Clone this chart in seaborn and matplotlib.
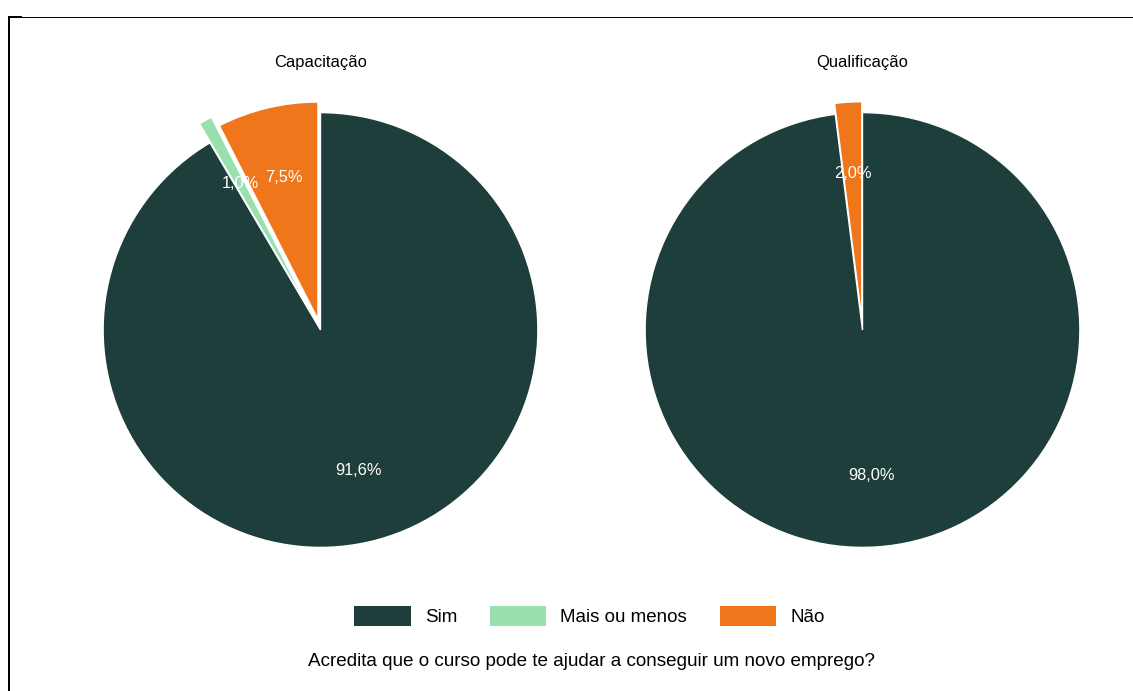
import matplotlib
matplotlib.use("Agg")
import matplotlib.pyplot as plt
from matplotlib.patches import Patch
from matplotlib.lines import Line2D
import seaborn as sns

# Survey answers: "Acredita que o curso pode te ajudar a conseguir um novo emprego?"
answers = ["Sim", "Mais ou menos", "Não"]
capacitacao_pct = [91.6, 1.0, 7.5]
qualificacao_answers = ["Sim", "Não"]
qualificacao_pct = [98.0, 2.0]
panel_titles = ["Capacitação", "Qualificação"]
question = "Acredita que o curso pode te ajudar a conseguir um novo emprego?"

sns.set_theme(style="white")
plt.rcParams["font.family"] = ["Liberation Sans", "DejaVu Sans"]

palette = dict(zip(answers, ["#1e3e3b", "#9ae0ae", "#f0761c"]))
explode_map = {"Sim": 0.0, "Mais ou menos": 0.1, "Não": 0.05}

W, H = 1133, 691
fig = plt.figure(figsize=(W / 100, H / 100), dpi=100)
fig.patch.set_facecolor("white")


def fmt(v):
    return f"{v:.1f}".replace(".", ",") + "%"


def draw_pie(cx, cy, labels, values, title):
    size = 500
    ax = fig.add_axes([(cx - size / 2) / W, (H - cy - size / 2) / H, size / W, size / H])
    ax.pie(
        values,
        labels=[fmt(v) for v in values],
        colors=[palette[l] for l in labels],
        explode=[explode_map[l] for l in labels],
        startangle=90,
        counterclock=False,
        labeldistance=0.67,
        wedgeprops=dict(edgecolor="white", linewidth=1),
        textprops=dict(color="white", fontsize=11.8, ha="center", va="center"),
    )
    ax.set_xlim(-1.15, 1.15)
    ax.set_ylim(-1.15, 1.15)
    ax.set_aspect("equal")
    ax.axis("off")
    fig.text(cx / W, 1 - 62 / H, title, ha="center", va="center", fontsize=11.9, color="black")


draw_pie(320.5, 330, answers, capacitacao_pct, panel_titles[0])
draw_pie(862.5, 330, qualificacao_answers, qualificacao_pct, panel_titles[1])

handles = [Patch(facecolor=palette[a], edgecolor="none", label=a) for a in answers]
leg = fig.legend(
    handles=handles,
    loc="center",
    bbox_to_anchor=(589.5 / W, 1 - 616 / H),
    ncol=3,
    frameon=False,
    fontsize=13.5,
    handlelength=3.0,
    handleheight=1.33,
    handletextpad=0.75,
    columnspacing=1.75,
    borderpad=0,
)
for t in leg.get_texts():
    t.set_color("black")

fig.text(591 / W, 1 - 661 / H, question, ha="center", va="center", fontsize=13.6, color="black")

# Frame lines along the top and left edges
px = lambda x: x / W
py = lambda y: 1 - y / H
fig.add_artist(Line2D([px(9), px(W)], [py(16.5), py(16.5)], color="black",
                      linewidth=0.72, solid_capstyle="butt"))
fig.add_artist(Line2D([px(9), px(9)], [py(16), py(H)], color="black",
                      linewidth=1.44, solid_capstyle="butt"))
fig.add_artist(Line2D([px(8), px(22)], [py(17), py(17)], color="black",
                      linewidth=1.44, solid_capstyle="butt"))

fig.savefig("out.png", dpi=100, facecolor="white")
